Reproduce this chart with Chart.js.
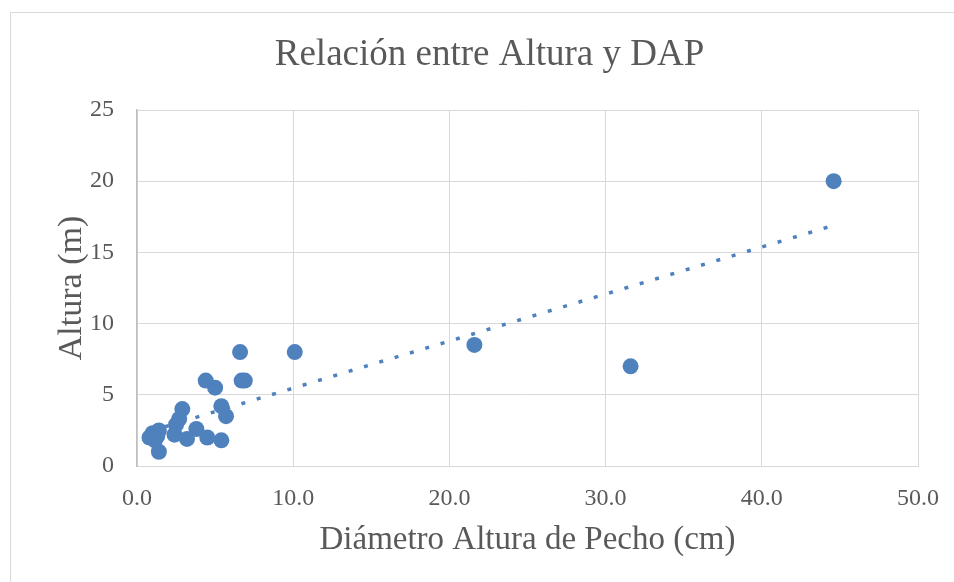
<!DOCTYPE html>
<html>
<head>
<meta charset="utf-8">
<script src="https://cdn.jsdelivr.net/npm/chart.js@4"></script>
<style>
  html, body { margin: 0; padding: 0; background: #ffffff; }
  #wrap { width: 954px; height: 582px; position: relative; }
</style>
</head>
<body>
<div id="wrap"><canvas id="c" width="954" height="582"></canvas></div>
<script>
// Data
const dapCm   = [44.6, 31.6, 21.6, 10.1, 6.6, 6.7, 6.9, 4.4, 5.0, 5.4, 5.7, 5.4, 4.5, 3.8, 3.2, 2.9, 2.7, 2.5, 2.4, 1.4, 1.4, 1.0, 0.8, 1.15, 1.3];
const alturaM = [20.0, 7.0, 8.5, 8.0, 8.0, 6.0, 6.0, 6.0, 5.5, 4.2, 3.5, 1.8, 2.0, 2.6, 1.9, 4.0, 3.3, 2.9, 2.2, 1.0, 2.5, 2.3, 2.0, 1.8, 2.1];
const trendX  = [0.8, 44.6];
const trendY  = [2.43, 16.9];
const xTicks  = [0, 10, 20, 30, 40, 50];
const yTicks  = [0, 5, 10, 15, 20, 25];

const titleText  = 'Relación entre Altura y DAP';
const xTitleText = 'Diámetro Altura de Pecho (cm)';
const yTitleText = 'Altura (m)';

const blue = '#4f81bd';
const grey = '#595959';
const grid = '#d9d9d9';
const serif = '"Liberation Serif", "DejaVu Serif", serif';

const points = dapCm.map((x, i) => ({ x: x, y: alturaM[i] }));
const trend  = trendX.map((x, i) => ({ x: x, y: trendY[i] }));

const outerBorder = {
  id: 'outerBorder',
  beforeDraw(chart) {
    const ctx = chart.ctx;
    ctx.save();
    ctx.strokeStyle = grid;
    ctx.lineWidth = 1;
    ctx.beginPath();
    ctx.moveTo(10.5, 600);
    ctx.lineTo(10.5, 12.5);
    ctx.lineTo(960, 12.5);
    ctx.stroke();
    ctx.restore();
  }
};

const padLeft = 61;

new Chart(document.getElementById('c'), {
  type: 'scatter',
  data: {
    datasets: [
      {
        label: 'Altura',
        data: points,
        backgroundColor: blue,
        borderColor: blue,
        pointRadius: 8,
        pointHoverRadius: 8,
        borderWidth: 0,
        order: 2
      },
      {
        label: 'Tendencia',
        type: 'line',
        data: trend,
        borderColor: blue,
        borderWidth: 3.5,
        borderDash: [4, 12],
        pointRadius: 0,
        fill: false,
        order: 1
      }
    ]
  },
  options: {
    responsive: false,
    animation: false,
    events: [],
    layout: { padding: { left: padLeft, right: 36, top: 0, bottom: 0 } },
    plugins: {
      legend: { display: false },
      tooltip: { enabled: false },
      title: {
        display: true,
        text: titleText,
        color: grey,
        font: { family: serif, size: 37, weight: 'normal', lineHeight: 1.2 },
        padding: { top: 33.3, bottom: 32.3 }
      }
    },
    scales: {
      x: {
        type: 'linear',
        min: 0, max: 50,
        afterBuildTicks: s => { s.ticks = xTicks.map(v => ({ value: v })); },
        afterFit: s => { s.height = 582 - 466; s.paddingLeft = 0; s.paddingRight = 0; },
        ticks: {
          color: grey,
          padding: 18,
          font: { family: serif, size: 24 },
          callback: v => Number(v).toFixed(1)
        },
        grid: { color: grid, lineWidth: 1, drawTicks: false },
        border: { color: grid, width: 1 },
        title: {
          display: true,
          text: xTitleText,
          color: grey,
          font: { family: serif, size: 33, lineHeight: 1.2 },
          padding: { top: 0, bottom: 22 }
        }
      },
      y: {
        type: 'linear',
        min: 0, max: 25,
        afterBuildTicks: s => { s.ticks = yTicks.map(v => ({ value: v })); },
        afterFit: s => { s.width = 137 - padLeft; },
        ticks: {
          color: grey,
          padding: 23,
          font: { family: serif, size: 24 },
          callback: v => String(v)
        },
        grid: { color: grid, lineWidth: 1, drawTicks: false },
        border: { color: '#bfbfbf', width: 1.5 },
        title: {
          display: true,
          text: yTitleText,
          color: grey,
          font: { family: serif, size: 34, lineHeight: 1.2 },
          padding: { top: 72 - 20.4 - padLeft, bottom: 0 }
        }
      }
    }
  },
  plugins: [outerBorder]
});
</script>
</body>
</html>
